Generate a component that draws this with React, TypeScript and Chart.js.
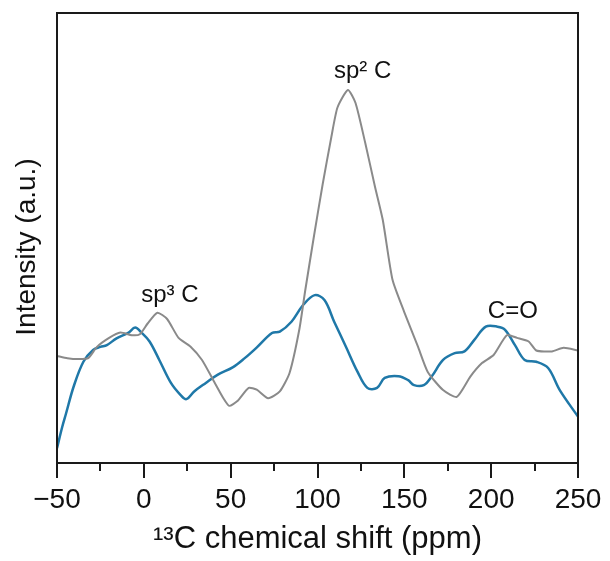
import { useEffect, useRef } from "react";
import { Chart, registerables } from "chart.js";

Chart.register(...registerables);

// ---- data (ppm, arbitrary intensity 0..100) ----
const grayShift = [
  -50, -44, -38, -32, -27, -20, -13.5, -7, -2.3, 2.2, 7.8, 13.4, 20, 26.8, 33.5, 40, 45.8, 49.2, 53.7,
  60.4, 65, 71.6, 78.3, 83.9, 89.5, 93, 98, 103, 108, 111.5, 117.5, 121.9, 127.5, 133.1, 137.6,
  143.2, 149.9, 157.8, 163.4, 172.3, 180.2, 188, 194.7, 201.4, 209, 214.9, 221.6, 226, 235, 241.7, 250,
];
const grayIntensity = [
  23.8, 23.3, 23.1, 23.3, 25.8, 27.8, 29, 28.4, 28.6, 31, 33.4, 32, 27.8, 25.9, 22.9, 18.4, 14.4, 12.7, 13.7,
  16.7, 16.3, 14.4, 15.9, 20, 29.6, 38.5, 50.5, 62, 72.5, 79, 82.9, 80, 71.1, 61.4, 54,
  40.7, 33.6, 25.9, 20.3, 16.2, 14.7, 19.2, 22.2, 24, 28.4, 27.8, 27, 25, 24.8, 25.6, 25,
];
const blueShift = [
  -50, -47, -44.8, -40.4, -34.8, -29.2, -25, -21.3, -15.7, -9, -5, -1.2, 3.3, 8.9, 15.6, 21.2, 24.5, 29,
  35.7, 42.4, 51.4, 58.1, 64.8, 73.8, 78.3, 85, 91.7, 98.4, 104, 109.6, 116.3, 123, 128.7, 134.3, 138.7,
  146.6, 152.2, 155.6, 161.2, 165.7, 172.3, 179, 184.6, 190.2, 196.9, 203.6, 208, 213.7, 219.3, 226,
  232.8, 239.5, 250,
];
const blueIntensity = [
  3.3, 8, 11, 17, 22.5, 25.1, 25.8, 26.2, 27.7, 28.9, 30.1, 28.9, 27, 22.9, 17.8, 15.1, 14.2, 15.9,
  17.8, 19.6, 21.3, 23.3, 25.6, 28.9, 29.2, 31.4, 35.1, 37.3, 36.2, 31.4, 25.9, 20.3, 16.7, 16.7, 18.9,
  19.3, 18.4, 17.3, 17.3, 19.2, 22.9, 24.4, 24.8, 27.3, 30.3, 30.3, 29.6, 26.2, 22.9, 22.5,
  21.1, 16.2, 10.3,
];
const majorTicks = [-50, 0, 50, 100, 150, 200, 250];
const minorTicks = [-25, 25, 75, 125, 175, 225];
const peakLabels = ["sp\u00B2 C", "sp\u00B3 C", "C=O"];
const peakShift = [126, 15, 212.5];
const peakIntensity = [85.6, 35.8, 32.2];
const xTitle = "\u00B9\u00B3C chemical shift (ppm)";
const yTitle = "Intensity (a.u.)";

const FONT = '"Liberation Sans", Arial, Helvetica, sans-serif';

export default function App() {
  const ref = useRef<HTMLCanvasElement | null>(null);

  useEffect(() => {
    if (!ref.current) return;
    const decor = {
      id: "decor",
      afterDraw(chart: any) {
        const { ctx, chartArea: a, scales } = chart;
        const xs = scales.x;
        const ys = scales.y;
        ctx.save();
        ctx.strokeStyle = "#1a1a1a";
        ctx.lineWidth = 2;
        ctx.strokeRect(a.left, a.top, a.right - a.left, a.bottom - a.top);
        ctx.beginPath();
        majorTicks.forEach((t) => {
          const px = Math.round(xs.getPixelForValue(t));
          ctx.moveTo(px, a.bottom);
          ctx.lineTo(px, a.bottom + 15);
        });
        minorTicks.forEach((t) => {
          const px = Math.round(xs.getPixelForValue(t));
          ctx.moveTo(px, a.bottom);
          ctx.lineTo(px, a.bottom + 8);
        });
        ctx.stroke();
        ctx.fillStyle = "#111";
        ctx.font = `24px ${FONT}`;
        ctx.textAlign = "center";
        ctx.textBaseline = "alphabetic";
        peakLabels.forEach((lab, i) => {
          ctx.fillText(lab, xs.getPixelForValue(peakShift[i]), ys.getPixelForValue(peakIntensity[i]));
        });
        // y axis title
        ctx.save();
        ctx.translate(27, (a.top + a.bottom) / 2 + 9);
        ctx.rotate(-Math.PI / 2);
        ctx.font = `28px ${FONT}`;
        ctx.textBaseline = "middle";
        ctx.fillText(yTitle, 0, 0);
        ctx.restore();
        ctx.restore();
      },
    };

    const chart = new Chart(ref.current, {
      type: "line",
      data: {
        datasets: [
          {
            label: "gray",
            data: grayShift.map((x, i) => ({ x, y: grayIntensity[i] })),
            borderColor: "#8a8a8a",
            borderWidth: 2,
            pointRadius: 0,
            tension: 0.2,
          },
          {
            label: "blue",
            data: blueShift.map((x, i) => ({ x, y: blueIntensity[i] })),
            borderColor: "#1f78a8",
            borderWidth: 2.5,
            pointRadius: 0,
            tension: 0.35,
          },
        ],
      },
      options: {
        responsive: false,
        animation: false,
        devicePixelRatio: 1,
        layout: { padding: { top: 13, right: 32, left: 0, bottom: 0 } },
        plugins: { legend: { display: false }, tooltip: { enabled: false } },
        scales: {
          x: {
            type: "linear",
            min: -50,
            max: 250,
            grid: { display: false, drawTicks: false },
            border: { display: false },
            ticks: {
              stepSize: 50,
              padding: 20,
              color: "#111",
              font: { size: 28, family: FONT },
              callback: (v: any) => String(v).replace("-", "\u2212"),
            },
            title: {
              display: true,
              text: xTitle,
              color: "#111",
              font: { size: 31, family: FONT },
              padding: { top: 0, bottom: 3 },
            },
            afterFit: (s: any) => {
              s.height = 98;
              s.paddingLeft = 0;
              s.paddingRight = 0;
            },
          },
          y: {
            min: 0,
            max: 100,
            grid: { display: false, drawTicks: false },
            border: { display: false },
            ticks: { display: false },
            title: { display: false },
            afterFit: (s: any) => {
              s.width = 57;
              s.paddingTop = 0;
              s.paddingBottom = 0;
            },
          },
        },
      },
      plugins: [decor],
    });
    return () => chart.destroy();
  }, []);

  return (
    <div style={{ position: "absolute", left: 0, top: 0, width: 610, height: 561, background: "#fff" }}>
      <canvas ref={ref} width={610} height={561} />
    </div>
  );
}
